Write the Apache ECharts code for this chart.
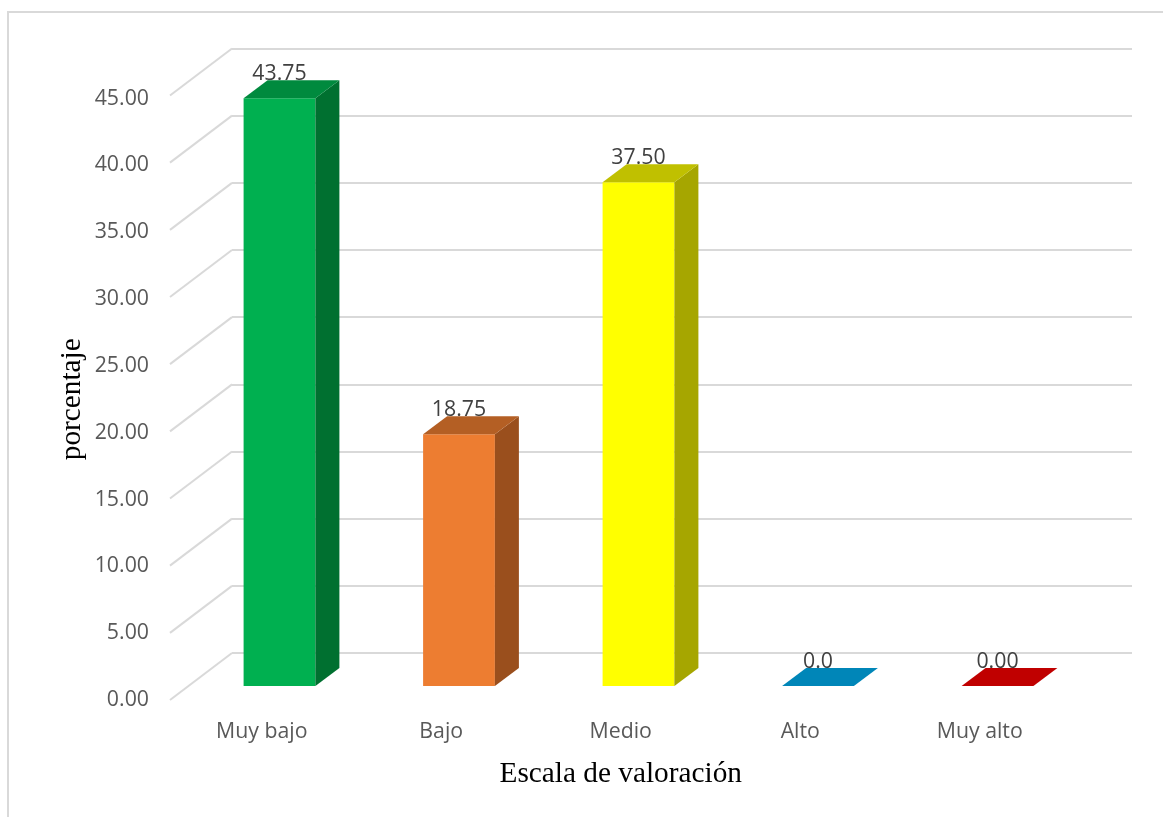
<!DOCTYPE html>
<html><head><meta charset="utf-8">
<style>html,body{margin:0;padding:0;background:#fff}#c{width:1163px;height:817px}</style>
<script src="https://cdn.jsdelivr.net/npm/echarts@6/dist/echarts.min.js"></script>
</head><body><div id="c"></div>
<script>
const categories = ['Muy bajo','Bajo','Medio','Alto','Muy alto'];
const values = [43.75,18.75,37.5,0,0];
const valueLabels = ['43.75','18.75','37.50','0.0','0.00'];
const frontColors = ['#00B050','#ED7D31','#FFFF00','#0086B8','#C00000'];
const topColors = ['#008A3E','#B45F24','#C0C000','#0086B8','#C00000'];
const sideColors = ['#007030','#9A4F1D','#A6A600','#006A92','#980000'];
const wallTicks = [0,5,10,15,20,25,30,35,40,45];
const AX = 45, GRID = '#D9D9D9', UI = '"Open Sans","Noto Sans",sans-serif', SERIF = '"Liberation Serif","Times New Roman",serif';
const DX = 24, DY = 18, DIAG_X = -62, DIAG_Y = 47;

const chart = echarts.init(document.getElementById('c'), null, {renderer:'canvas'});
chart.setOption({
  animation:false,
  backgroundColor:'#fff',
  graphic:[{type:'polyline',silent:true,shape:{points:[[8,817],[8,12],[1163,12]]},style:{stroke:GRID,lineWidth:2,fill:null}}],
  grid:[
    {left:232,top:48.5,width:900,height:604.5},   // back wall
    {left:172,top:98.5,width:897.5,height:601.5}, // front labels
    {left:189.75,top:81.5,width:897.5,height:604.5} // bars
  ],
  xAxis:[
    {gridIndex:0,type:'value',min:0,max:1,show:false},
    {gridIndex:1,type:'category',data:categories,
      axisLine:{show:false},axisTick:{show:false},
      axisLabel:{color:'#595959',fontFamily:UI,fontSize:21.3,margin:21,formatter:v=>v},
      name:'Escala de valoración',nameLocation:'middle',nameGap:60,
      nameTextStyle:{color:'#000',fontFamily:SERIF,fontSize:29.3}},
    {gridIndex:2,type:'category',data:categories,show:false}
  ],
  yAxis:[
    {gridIndex:0,type:'value',min:0,max:AX,interval:5,
      axisLine:{show:false},axisTick:{show:false},axisLabel:{show:false},
      splitLine:{show:true,lineStyle:{color:GRID,width:2}}},
    {gridIndex:1,type:'value',min:0,max:AX,interval:5,
      axisLine:{show:false},axisTick:{show:false},splitLine:{show:false},
      axisLabel:{color:'#595959',fontFamily:UI,fontSize:21.3,margin:23,formatter:v=>v.toFixed(2)},
      name:'porcentaje',nameLocation:'middle',nameGap:85,nameRotate:90,nameMoveOverlap:false,
      nameTextStyle:{color:'#000',fontFamily:SERIF,fontSize:29.3}},
    {gridIndex:2,type:'value',min:0,max:AX,interval:5,show:false}
  ],
  series:[
    {type:'custom',xAxisIndex:0,yAxisIndex:0,silent:true,z:1,
      data:wallTicks.map(v=>[0,v]),
      renderItem:(p,api)=>{
        const c=api.coord([api.value(0),api.value(1)]);
        return {type:'line',shape:{x1:c[0],y1:c[1],x2:c[0]+DIAG_X,y2:c[1]+DIAG_Y},
          style:{stroke:GRID,lineWidth:2}};
      }},
    {type:'custom',xAxisIndex:2,yAxisIndex:2,silent:true,z:3,clip:false,
      data:values.map((v,i)=>[i,v]),
      renderItem:(p,api)=>{
        const i=api.value(0), v=api.value(1);
        const c=api.coord([i,v]), b=api.coord([i,0]);
        const w=api.size([1,0])[0]*0.4;
        const x0=c[0]-w/2, x1=c[0]+w/2, yt=c[1], yb=b[1];
        const kids=[];
        if(v>0){
          kids.push({type:'rect',shape:{x:x0,y:yt,width:w,height:yb-yt},style:{fill:frontColors[i]}});
          kids.push({type:'polygon',shape:{points:[[x1,yt],[x1+DX,yt-DY],[x1+DX,yb-DY],[x1,yb]]},style:{fill:sideColors[i]}});
        }
        kids.push({type:'polygon',shape:{points:[[x0,yt],[x1,yt],[x1+DX,yt-DY],[x0+DX,yt-DY]]},style:{fill:topColors[i]}});
        kids.push({type:'text',x:c[0],y:yt-24.5,style:{text:valueLabels[i],fill:'#404040',font:'21.3px '+UI,align:'center',verticalAlign:'middle'}});
        return {type:'group',children:kids};
      }}
  ]
});
</script></body></html>
